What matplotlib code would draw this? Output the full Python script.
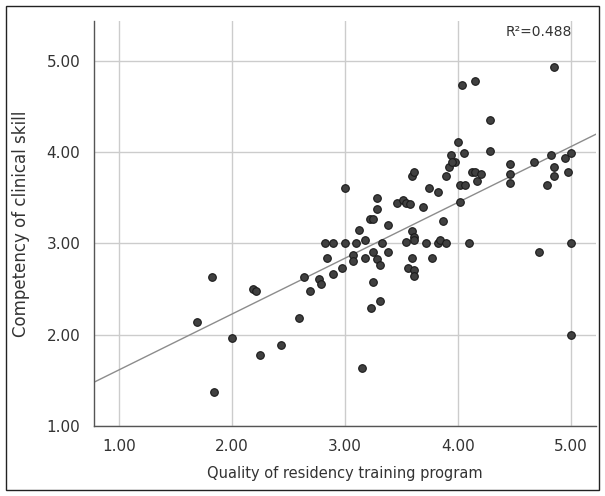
import matplotlib
matplotlib.use('Agg')
import matplotlib.pyplot as plt
from matplotlib.patches import Rectangle

# quality of residency training program (x) vs competency of clinical skill (y)
quality = [1.69, 1.82, 1.84, 2.00, 2.18, 2.21, 2.25, 2.43, 2.59, 2.64,
           2.69, 2.77, 2.79, 2.82, 2.84, 2.89, 2.89, 2.97, 3.00, 3.00,
           3.10, 3.12, 3.18, 3.07, 3.07, 3.18, 3.25, 3.28, 3.31, 3.33,
           3.38, 3.25, 3.31, 3.23, 3.15, 3.22, 3.25, 3.28, 3.28, 3.38,
           3.46, 3.51, 3.54, 3.57, 3.54, 3.59, 3.61, 3.61, 3.59, 3.56,
           3.61, 3.61, 3.69, 3.74, 3.82, 3.87, 3.72, 3.77, 3.82, 3.84,
           3.89, 4.10, 3.59, 3.61, 3.89, 3.92, 3.94, 3.97, 4.00, 4.05,
           4.02, 4.06, 4.02, 4.12, 4.15, 4.20, 4.17, 4.03, 4.15, 4.28,
           4.28, 4.46, 4.46, 4.46, 4.67, 4.72, 4.82, 4.85, 4.85, 4.79,
           4.85, 4.95, 5.00, 4.97, 5.00, 5.00, 3.95]
competency = [2.14, 2.63, 1.37, 1.96, 2.50, 2.48, 1.78, 1.88, 2.18, 2.63,
              2.48, 2.61, 2.55, 3.00, 2.84, 3.00, 2.66, 2.73, 3.00, 3.61,
              3.00, 3.15, 3.04, 2.87, 2.81, 2.84, 2.91, 2.83, 2.76, 3.00,
              2.91, 2.58, 2.37, 2.29, 1.63, 3.27, 3.27, 3.50, 3.38, 3.20,
              3.45, 3.48, 3.45, 3.43, 3.02, 3.14, 3.07, 3.04, 2.84, 2.73,
              2.71, 2.64, 3.40, 3.61, 3.56, 3.25, 3.00, 2.84, 3.00, 3.04,
              3.00, 3.00, 3.74, 3.79, 3.74, 3.84, 3.97, 3.89, 4.12, 3.99,
              3.64, 3.64, 3.46, 3.79, 3.79, 3.76, 3.69, 4.74, 4.79, 4.36,
              4.02, 3.87, 3.76, 3.66, 3.89, 2.91, 3.97, 3.84, 3.74, 3.64,
              4.94, 3.94, 3.99, 3.79, 3.00, 1.99, 3.89]

# fit line as shown in the chart
intercept = 1.0
slope = 0.613
r2_text = 'R\u00b2=0.488'

ticks = [1, 2, 3, 4, 5]
tick_labels = ['1.00', '2.00', '3.00', '4.00', '5.00']

fig = plt.figure(figsize=(6.05, 4.96), dpi=100)
ax = fig.add_axes([0.156, 0.142, 0.829, 0.815])

xlim = (0.78, 5.22)
ylim = (1.0, 5.44)
ax.set_xlim(xlim)
ax.set_ylim(ylim)

ax.grid(True, color='#cccccc', linewidth=1.0, zorder=0)
ax.set_axisbelow(True)

ax.plot(xlim, [intercept + slope * x for x in xlim], color='#8c8c8c',
        linewidth=1.0, zorder=2)
ax.scatter(quality, competency, s=30, facecolor='#404040', edgecolor='#1a1a1a',
           linewidth=0.8, zorder=3)

ax.set_xticks(ticks)
ax.set_xticklabels(tick_labels)
ax.set_yticks(ticks)
ax.set_yticklabels(tick_labels)
ax.tick_params(length=0, labelsize=11, colors='#333333', pad=10)

for side in ['top', 'right']:
    ax.spines[side].set_visible(False)
for side in ['left', 'bottom']:
    ax.spines[side].set_color('#555555')
    ax.spines[side].set_linewidth(1.0)

ax.set_xlabel('Quality of residency training program', fontsize=10.5,
              color='#333333', labelpad=8)
ax.set_ylabel('Competency of clinical skill', fontsize=12,
              color='#333333', labelpad=12)

ax.text(0.952, 0.99, r2_text, transform=ax.transAxes, ha='right', va='top',
        fontsize=10, color='#333333')

fig.patches.append(Rectangle((6 / 605, 1 - 490 / 496), 593 / 605, 484 / 496,
                             transform=fig.transFigure, fill=False,
                             edgecolor='#222222', linewidth=1.0))

fig.savefig('out.png', dpi=100)
